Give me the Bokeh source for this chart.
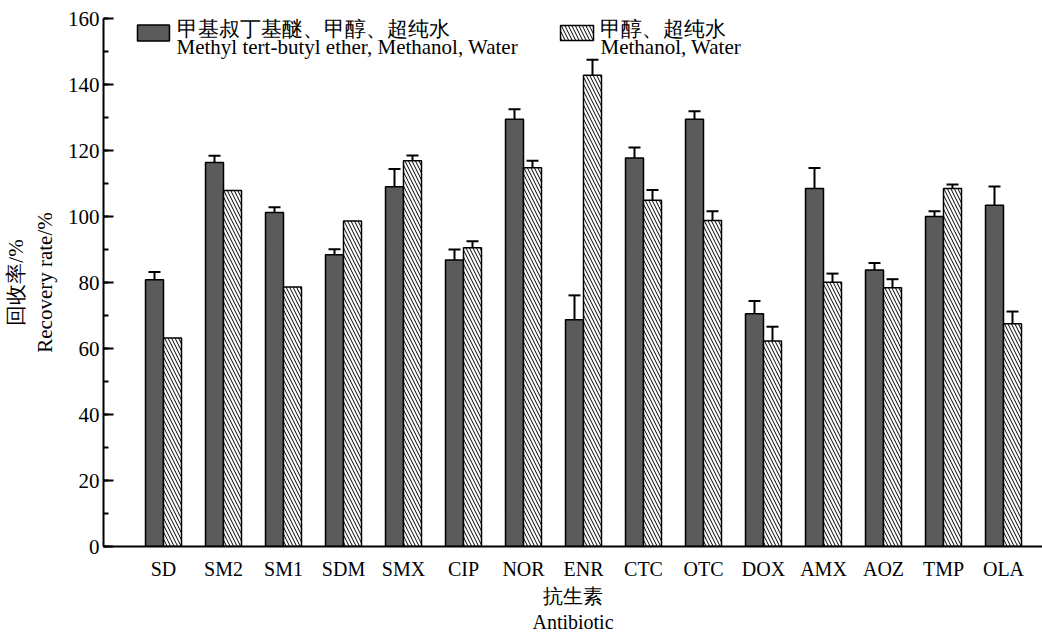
import numpy as np
from bokeh.plotting import figure
from bokeh.models import ColumnDataSource, Whisker, FixedTicker, Range1d, TeeHead
from bokeh.core.properties import value
from bokeh.embed import file_html
from bokeh.resources import INLINE

# Recovery of 15 antibiotics with two extraction solvents (mean ± SD, %)
antibiotics = ["SD", "SM2", "SM1", "SDM", "SMX", "CIP", "NOR", "ENR",
               "CTC", "OTC", "DOX", "AMX", "AOZ", "TMP", "OLA"]
mtbe_mean = [80.8, 116.4, 101.2, 88.4, 109.0, 86.8, 129.5, 68.7,
             117.7, 129.5, 70.5, 108.5, 83.8, 100.0, 103.4]
mtbe_sd = [2.4, 2.0, 1.6, 1.7, 5.4, 3.2, 3.0, 7.4,
           3.2, 2.4, 3.9, 6.2, 2.1, 1.6, 5.7]
meoh_mean = [63.2, 107.9, 78.6, 98.6, 116.9, 90.5, 114.8, 142.8,
             104.9, 98.8, 62.3, 80.1, 78.4, 108.5, 67.5]
meoh_sd = [0.0, 0.0, 0.0, 0.0, 1.6, 2.0, 2.1, 4.7,
           3.1, 2.8, 4.3, 2.6, 2.6, 1.2, 3.7]

series_mtbe = "甲基叔丁基醚、甲醇、超纯水"
series_mtbe_en = "Methyl tert-butyl ether, Methanol, Water"
series_meoh = "甲醇、超纯水"
series_meoh_en = "Methanol, Water"

y_ticks = list(range(0, 161, 20))
y_minor = list(range(0, 161, 10))

FONT = "Liberation Serif"
DARK = "#5b5b5b"
BAR_W = 0.3

idx = np.arange(1, len(antibiotics) + 1)
x_mtbe = idx - BAR_W / 2
x_meoh = idx + BAR_W / 2

p = figure(width=1042, height=635,
           x_range=Range1d(0, 15.65), y_range=Range1d(0, 160),
           output_backend="svg", toolbar_location=None,
           min_border_left=103, min_border_right=0,
           min_border_top=18, min_border_bottom=89)
p.grid.visible = False
p.outline_line_color = None
p.background_fill_color = "white"
p.border_fill_color = "white"

src_mtbe = ColumnDataSource(dict(x=x_mtbe, top=mtbe_mean,
                                 upper=np.array(mtbe_mean) + np.array(mtbe_sd),
                                 lower=np.array(mtbe_mean) - np.array(mtbe_sd)))
p.vbar(x="x", top="top", width=BAR_W, source=src_mtbe,
       fill_color=DARK, line_color="black", line_width=1.5)

src_meoh = ColumnDataSource(dict(x=x_meoh, top=meoh_mean))
p.vbar(x="x", top="top", width=BAR_W, source=src_meoh,
       fill_color="white", line_color="black", line_width=1.5,
       hatch_pattern="left_diagonal_line", hatch_color="black",
       hatch_scale=7, hatch_weight=1)

# error bars (only where a deviation was reported)
has_err = np.array(meoh_sd) > 0
src_meoh_err = ColumnDataSource(dict(
    x=x_meoh[has_err],
    upper=(np.array(meoh_mean) + np.array(meoh_sd))[has_err],
    lower=(np.array(meoh_mean) - np.array(meoh_sd))[has_err]))

for src in (src_mtbe, src_meoh_err):
    w = Whisker(source=src, base="x", upper="upper", lower="lower",
                line_color="black", line_width=2,
                upper_head=TeeHead(size=12, line_width=2, line_color="black"),
                lower_head=TeeHead(size=12, line_width=2, line_color="black"))
    p.add_layout(w)

# legend drawn inside the frame
p.rect(x=[0.833, 7.892], y=[155.6, 155.6], width=[0.533, 0.55], height=[4.8, 4.5],
       fill_color=[DARK, "white"], line_color="black", line_width=1.5,
       hatch_pattern=[" ", "left_diagonal_line"], hatch_color="black",
       hatch_scale=7, hatch_weight=1)
p.text(x=[1.217, 8.283], y=[156.9, 156.9], text=[series_mtbe, series_meoh],
       text_font=value(FONT), text_font_size="21px",
       text_baseline="middle", text_align="left", text_color="black")
p.text(x=[1.217, 8.283], y=[151.3, 151.3], text=[series_mtbe_en, series_meoh_en],
       text_font=value(FONT), text_font_size="21px",
       text_baseline="middle", text_align="left", text_color="black")

# x axis: category names at integer positions, no ticks
xa = p.xaxis[0]
xa.ticker = FixedTicker(ticks=[int(i) for i in idx])
xa.major_label_overrides = {int(i): name for i, name in zip(idx, antibiotics)}
xa.major_tick_line_color = None
xa.minor_tick_line_color = None
xa.axis_line_width = 2
xa.axis_line_color = "black"
xa.major_label_text_font = FONT
xa.major_label_text_font_size = "20px"
xa.major_label_text_color = "black"
xa.major_label_standoff = 5
xa.axis_label = "抗生素\nAntibiotic"
xa.axis_label_text_font = FONT
xa.axis_label_text_font_size = "20px"
xa.axis_label_text_font_style = "normal"
xa.axis_label_text_color = "black"
xa.axis_label_standoff = 2

# y axis: inward ticks
ya = p.yaxis[0]
ya.ticker = FixedTicker(ticks=y_ticks, minor_ticks=y_minor)
ya.major_tick_in = 10
ya.major_tick_out = 0
ya.minor_tick_in = 5
ya.minor_tick_out = 0
ya.major_tick_line_width = 2
ya.minor_tick_line_width = 2
ya.major_tick_line_color = "black"
ya.minor_tick_line_color = "black"
ya.axis_line_width = 2
ya.axis_line_color = "black"
ya.major_label_text_font = FONT
ya.major_label_text_font_size = "21px"
ya.major_label_text_color = "black"
ya.major_label_standoff = 4
ya.axis_label = "回收率/%\nRecovery rate/%"
ya.axis_label_text_font = FONT
ya.axis_label_text_font_size = "21px"
ya.axis_label_text_font_style = "normal"
ya.axis_label_text_color = "black"
ya.axis_label_standoff = 8

open("out.html", "w").write(file_html(p, INLINE))
